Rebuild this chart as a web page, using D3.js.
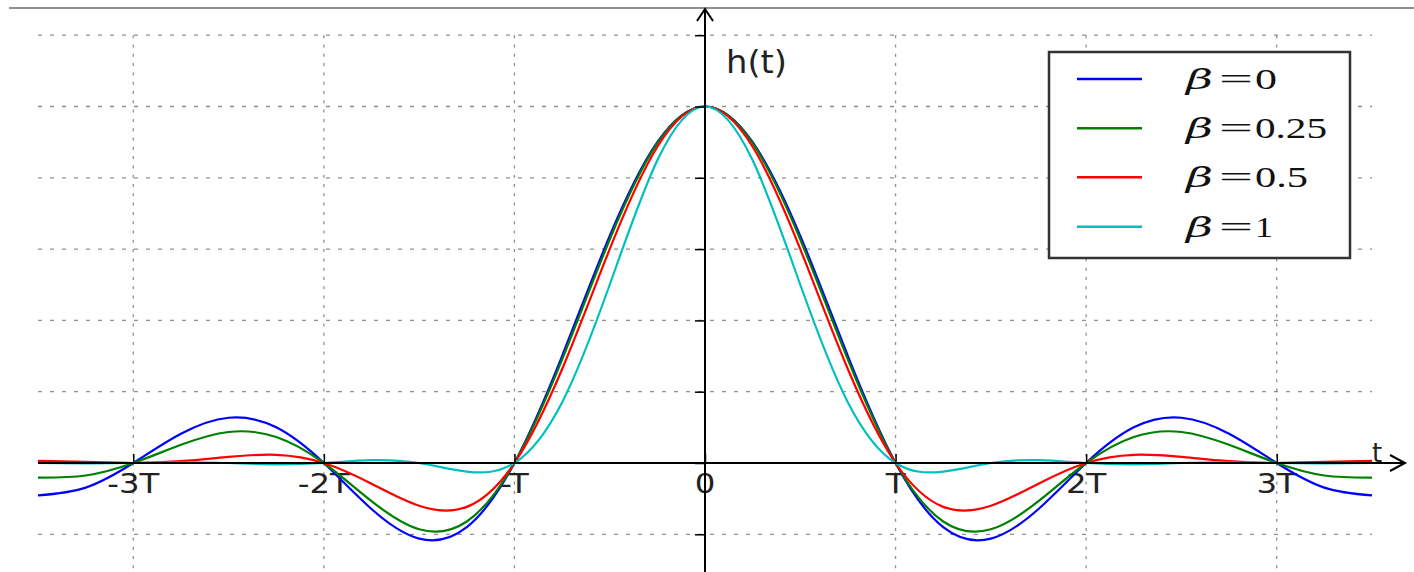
<!DOCTYPE html>
<html>
<head>
<meta charset="utf-8">
<script src="https://cdn.jsdelivr.net/npm/d3@7"></script>
<style>
  html, body { margin: 0; padding: 0; background: #fff; }
  svg { display: block; }
</style>
</head>
<body>
<script>
// sample positions in units of T
const tValues = [-3.5, -3.25, -3, -2.75, -2.5, -2.25, -2, -1.75, -1.5, -1.25, -1, -0.75, -0.5, -0.25, 0,
                 0.25, 0.5, 0.75, 1, 1.25, 1.5, 1.75, 2, 2.25, 2.5, 2.75, 3, 3.25, 3.5]

// h(t), one list per roll-off
const hBeta0 = [-0.091, -0.069, 0, 0.082, 0.127, 0.100, 0, -0.129, -0.212, -0.180, 0, 0.300, 0.637, 0.900, 1,
                0.900, 0.637, 0.300, 0, -0.180, -0.212, -0.129, 0, 0.100, 0.127, 0.082, 0, -0.069, -0.091]
const hBeta025 = [-0.041, -0.035, 0, 0.051, 0.087, 0.073, 0, -0.107, -0.186, -0.164, 0, 0.290, 0.627, 0.897, 1,
                  0.897, 0.627, 0.290, 0, -0.164, -0.186, -0.107, 0, 0.073, 0.087, 0.051, 0, -0.035, -0.041]
const hBeta05 = [0.006, 0.003, 0, 0.005, 0.017, 0.023, 0, -0.058, -0.120, -0.123, 0, 0.263, 0.600, 0.887, 1,
                 0.887, 0.600, 0.263, 0, -0.123, -0.120, -0.058, 0, 0.023, 0.017, 0.005, 0, 0.003, 0.006]
const hBeta1 = [0, -0.001, 0, 0.002, 0, -0.004, 0, 0.008, 0, -0.024, 0, 0.170, 0.500, 0.849, 1,
                0.849, 0.500, 0.170, 0, -0.024, 0, 0.008, 0, -0.004, 0, 0.002, 0, -0.001, 0]

const betaValues = ['0', '0.25', '0.5', '1']
const seriesColors = ['#0000ff', '#008000', '#ff0000', '#00bfbf']

const xTicks = [-3, -2, -1, 0, 1, 2, 3]
const xTickLabels = ['-3T', '-2T', '-T', '0', 'T', '2T', '3T']
const yTicks = [-0.2, 0, 0.2, 0.4, 0.6, 0.8, 1.0, 1.2]

const w = 1414
const h = 572

const svg = d3.select('body')
  .append('svg')
  .attr('width', w)
  .attr('height', h)

const xScale = d3.scaleLinear()
  .domain([-3.5, 3.5])
  .range([38, 1372])

const yScale = d3.scaleLinear()
  .domain([0, 1])
  .range([463, 106.5])

// frame line across the top
svg.append('line')
  .attr('x1', 9).attr('x2', w)
  .attr('y1', 8).attr('y2', 8)
  .attr('stroke', '#6a6a6a')
  .attr('stroke-width', 1.6)

// grid
const grid = svg.append('g').attr('class', 'grid')

grid.selectAll('.hgrid')
  .data(yTicks)
  .enter()
  .append('line')
  .attr('class', 'hgrid')
  .attr('x1', xScale(-3.5))
  .attr('x2', xScale(3.5))
  .attr('y1', d => yScale(d))
  .attr('y2', d => yScale(d))
  .attr('stroke', '#909090')
  .attr('stroke-width', 1.3)
  .attr('stroke-dasharray', '4,8')

grid.selectAll('.vgrid')
  .data(xTicks)
  .enter()
  .append('line')
  .attr('class', 'vgrid')
  .attr('x1', d => xScale(d))
  .attr('x2', d => xScale(d))
  .attr('y1', yScale(1.2))
  .attr('y2', h)
  .attr('stroke', '#909090')
  .attr('stroke-width', 1.3)
  .attr('stroke-dasharray', '3,6.3')

// tick labels sit under the curves
svg.selectAll('.xlabel')
  .data(xTicks)
  .enter()
  .append('text')
  .attr('class', 'xlabel')
  .attr('transform', d => `translate(${xScale(d)}, 493) scale(1.2, 1)`)
  .attr('text-anchor', 'middle')
  .style('font-family', 'DejaVu Sans')
  .style('font-size', '27px')
  .attr('fill', '#222')
  .text((d, i) => xTickLabels[i])

// curves
const series = [hBeta0, hBeta025, hBeta05, hBeta1]

const line = d3.line()
  .x((d, i) => xScale(tValues[i]))
  .y(d => yScale(d))
  .curve(d3.curveNatural)

svg.selectAll('.curve')
  .data(series)
  .enter()
  .append('path')
  .attr('class', 'curve')
  .attr('d', d => line(d))
  .attr('fill', 'none')
  .attr('stroke', (d, i) => seriesColors[i])
  .attr('stroke-width', 2.2)

// axes through the origin
const x0 = xScale(0)
const y0 = yScale(0)

svg.append('g')
  .attr('transform', `translate(0, ${y0})`)
  .call(d3.axisTop(xScale).tickValues(xTicks).tickSize(9).tickFormat(''))
  .call(g => g.select('.domain').remove())
  .call(g => g.selectAll('line').attr('stroke', '#000').attr('stroke-width', 1.5))

svg.append('g')
  .attr('transform', `translate(${x0}, 0)`)
  .call(d3.axisLeft(yScale).tickValues(yTicks).tickSize(10).tickFormat(''))
  .call(g => g.select('.domain').remove())
  .call(g => g.selectAll('line').attr('stroke', '#000').attr('stroke-width', 1.5))

svg.append('line')
  .attr('x1', xScale(-3.5)).attr('x2', 1404)
  .attr('y1', y0).attr('y2', y0)
  .attr('stroke', '#000')
  .attr('stroke-width', 2)

svg.append('path')
  .attr('d', `M1390,${y0 - 8}L1405,${y0}L1390,${y0 + 8}`)
  .attr('fill', 'none')
  .attr('stroke', '#000')
  .attr('stroke-width', 2)

svg.append('line')
  .attr('x1', x0).attr('x2', x0)
  .attr('y1', h).attr('y2', 10)
  .attr('stroke', '#000')
  .attr('stroke-width', 2)

svg.append('path')
  .attr('d', `M${x0 - 8},21L${x0},9L${x0 + 8},21`)
  .attr('fill', 'none')
  .attr('stroke', '#000')
  .attr('stroke-width', 2)

svg.append('text')
  .attr('x', 726)
  .attr('y', 73)
  .attr('textLength', 61)
  .attr('lengthAdjust', 'spacingAndGlyphs')
  .style('font-family', 'DejaVu Sans')
  .style('font-size', '32px')
  .attr('fill', '#222')
  .text('h(t)')

svg.append('text')
  .attr('x', 1372)
  .attr('y', 462)
  .style('font-family', 'DejaVu Sans')
  .style('font-size', '26px')
  .attr('fill', '#222')
  .text('t')

// legend
const legend = svg.append('g').attr('class', 'legend')

legend.append('rect')
  .attr('x', 1049)
  .attr('y', 52)
  .attr('width', 301)
  .attr('height', 206)
  .attr('fill', '#fff')
  .attr('stroke', '#333')
  .attr('stroke-width', 2.5)

const rowY = [79, 128.3, 177.3, 226.7]
const numWidths = [22, 72, 53, 18]

const rows = legend.selectAll('.row')
  .data(betaValues)
  .enter()
  .append('g')
  .attr('class', 'row')
  .attr('transform', (d, i) => `translate(0, ${rowY[i]})`)

rows.append('line')
  .attr('x1', 1077).attr('x2', 1142)
  .attr('y1', 0).attr('y2', 0)
  .attr('stroke', (d, i) => seriesColors[i])
  .attr('stroke-width', 2.5)

rows.append('text')
  .attr('x', 1186)
  .attr('y', 10)
  .attr('textLength', 27)
  .attr('lengthAdjust', 'spacingAndGlyphs')
  .style('font-family', 'DejaVu Serif')
  .style('font-style', 'italic')
  .style('font-size', '28px')
  .attr('fill', '#111')
  .text('β')

rows.append('text')
  .attr('x', 1219)
  .attr('y', 10)
  .attr('textLength', 34)
  .attr('lengthAdjust', 'spacingAndGlyphs')
  .style('font-family', 'Liberation Serif')
  .style('font-size', '29px')
  .attr('fill', '#111')
  .text('=')

rows.append('text')
  .attr('x', 1255)
  .attr('y', 10)
  .attr('textLength', (d, i) => numWidths[i])
  .attr('lengthAdjust', 'spacingAndGlyphs')
  .style('font-family', 'Liberation Serif')
  .style('font-size', '29px')
  .attr('fill', '#111')
  .text(d => d)
</script>
</body>
</html>
